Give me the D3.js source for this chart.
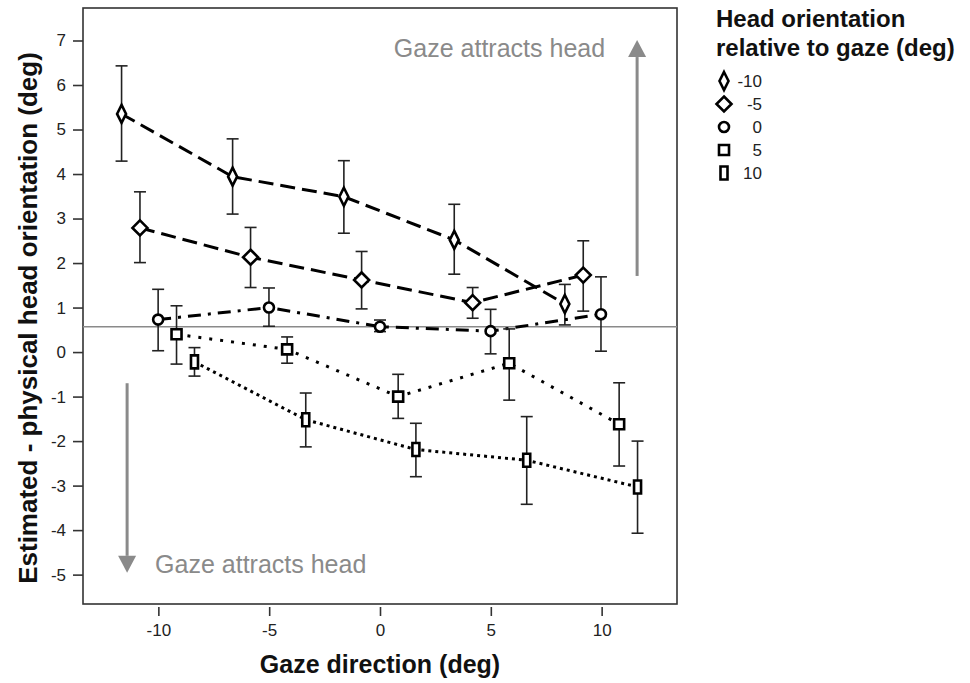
<!DOCTYPE html>
<html>
<head>
<meta charset="utf-8">
<script src="https://cdn.jsdelivr.net/npm/d3@7"></script>
<style>
body { margin: 0; background: #fff; }
text { font-family: "Liberation Sans", Arial, sans-serif; }
</style>
</head>
<body>
<svg id="chart" width="970" height="683"></svg>
<script>
// head orientation relative to gaze (one series each)
const headOrientations = ["-10", "-5", "0", "5", "10"];
const gazeBySeries = [
	[-11.66, -6.65, -1.63, 3.35, 8.34],
	[-10.83, -5.84, -0.83, 4.18, 9.17],
	[-10.01, -5.01, 0, 4.99, 9.97],
	[-9.18, -4.19, 0.82, 5.83, 10.79],
	[-8.37, -3.35, 1.62, 6.62, 11.62]
];
const meanBySeries = [
	[5.35, 3.94, 3.49, 2.52, 1.08],
	[2.79, 2.13, 1.62, 1.11, 1.73],
	[0.73, 1.0, 0.57, 0.47, 0.85],
	[0.4, 0.06, -1.0, -0.25, -1.62],
	[-0.22, -1.52, -2.19, -2.43, -3.03]
];
const lowerBySeries = [
	[4.29, 3.1, 2.67, 1.75, 0.61],
	[2.01, 1.45, 0.97, 0.76, 0.92],
	[0.03, 0.58, 0.46, -0.04, 0.02],
	[-0.27, -0.25, -1.49, -1.08, -2.56],
	[-0.54, -2.13, -2.8, -3.42, -4.07]
];
const upperBySeries = [
	[6.43, 4.79, 4.3, 3.32, 1.52],
	[3.6, 2.8, 2.26, 1.45, 2.5],
	[1.41, 1.44, 0.72, 0.96, 1.69],
	[1.04, 0.34, -0.5, 0.52, -0.69],
	[0.1, -0.92, -1.6, -1.45, -2.0]
];
const xTicks = [-10, -5, 0, 5, 10];
const yTicks = [-5, -4, -3, -2, -1, 0, 1, 2, 3, 4, 5, 6, 7];
const referenceLevel = 0.57;
// arrows: [gaze, from, to]
const upArrow = [11.6, 1.71, 7.01];
const downArrow = [-11.41, -0.7, -4.96];

const frame = { left: 83, right: 677, top: 8, bottom: 604 };
const dashes = ["15,7", "15,7", "13,7,3,7", "3,8", "3,4"];
const shapes = [
	"M0,-9L4.5,0L0,9L-4.5,0Z",
	"M0,-7.5L7.5,0L0,7.5L-7.5,0Z",
	"M5,0A5,5 0 1,1 -5,0A5,5 0 1,1 5,0Z",
	"M-5,-5H5V5H-5Z",
	"M-3.5,-6.5H3.5V6.5H-3.5Z"
];
const grey = "#8a8a8a";
const axisColor = "#333";

const svg = d3.select("#chart");

const x = d3.scaleLinear().domain([-13.4, 13.4]).range([frame.left, frame.right]);
const y = d3.scaleLinear().domain([-5.66, 7.73]).range([frame.bottom, frame.top]);

// axes
const yAxisG = svg.append("g")
	.attr("transform", "translate(" + frame.left + ",0)")
	.call(d3.axisLeft(y).tickValues(yTicks).tickSize(10).tickPadding(7).tickFormat(d3.format("d")));
const xAxisG = svg.append("g")
	.attr("transform", "translate(0," + (frame.bottom + 3) + ")")
	.call(d3.axisBottom(x).tickValues(xTicks).tickSize(9).tickPadding(8).tickFormat(d3.format("d")));
for (const g of [xAxisG, yAxisG]) {
	g.select(".domain").remove();
	g.selectAll("line").attr("stroke", axisColor).attr("stroke-width", 1.6);
	g.selectAll("text").attr("font-size", 17).attr("fill", "#222")
		.attr("font-family", "'Liberation Sans', Arial, sans-serif")
		.text((d) => String(d).replace("\u2212", "-"));
}

svg.append("rect")
	.attr("x", frame.left).attr("y", frame.top)
	.attr("width", frame.right - frame.left).attr("height", frame.bottom - frame.top)
	.attr("fill", "none").attr("stroke", axisColor).attr("stroke-width", 1.6);

svg.append("text")
	.attr("x", x(0)).attr("y", 673)
	.attr("text-anchor", "middle").attr("font-size", 25).attr("font-weight", "bold").attr("fill", "#111")
	.text("Gaze direction (deg)");

svg.append("text")
	.attr("transform", "translate(37,318) rotate(-90)")
	.attr("text-anchor", "middle").attr("font-size", 26).attr("font-weight", "bold").attr("fill", "#111")
	.text("Estimated - physical head orientation (deg)");

// reference line
svg.append("line")
	.attr("x1", frame.left).attr("x2", frame.right)
	.attr("y1", y(referenceLevel)).attr("y2", y(referenceLevel))
	.attr("stroke", grey).attr("stroke-width", 1.6);

// arrows
function drawArrow(a, up) {
	const ax = x(a[0]);
	const tip = y(a[2]);
	const base = up ? tip + 17 : tip - 17;
	svg.append("line")
		.attr("x1", ax).attr("x2", ax).attr("y1", y(a[1])).attr("y2", base)
		.attr("stroke", grey).attr("stroke-width", 3);
	svg.append("path")
		.attr("d", `M${ax},${tip}L${ax + 9},${base}L${ax - 9},${base}Z`)
		.attr("fill", grey);
}
drawArrow(upArrow, true);
drawArrow(downArrow, false);

svg.append("text")
	.attr("x", x(upArrow[0]) - 32).attr("y", y(upArrow[2]) + 17)
	.attr("text-anchor", "end").attr("font-size", 25).attr("fill", grey)
	.text("Gaze attracts head");
svg.append("text")
	.attr("x", x(downArrow[0]) + 28).attr("y", y(downArrow[2]))
	.attr("text-anchor", "start").attr("font-size", 25).attr("fill", grey)
	.text("Gaze attracts head");

// series
const line = d3.line().x((d) => x(d.gaze)).y((d) => y(d.mean));
headOrientations.forEach((label, i) => {
	const pts = gazeBySeries[i].map((g, j) => ({
		gaze: g, mean: meanBySeries[i][j], lo: lowerBySeries[i][j], hi: upperBySeries[i][j]
	}));
	const sg = svg.append("g");
	sg.append("path")
		.datum(pts)
		.attr("fill", "none")
		.attr("stroke", "#000")
		.attr("stroke-width", 3)
		.attr("stroke-dasharray", dashes[i])
		.attr("d", line);

	const bars = sg.selectAll(".bar").data(pts).join("g").attr("stroke", "#222").attr("stroke-width", 1.6);
	bars.append("line")
		.attr("x1", (d) => x(d.gaze)).attr("x2", (d) => x(d.gaze))
		.attr("y1", (d) => y(d.lo)).attr("y2", (d) => y(d.hi));
	bars.append("line")
		.attr("x1", (d) => x(d.gaze) - 6).attr("x2", (d) => x(d.gaze) + 6)
		.attr("y1", (d) => y(d.hi)).attr("y2", (d) => y(d.hi));
	bars.append("line")
		.attr("x1", (d) => x(d.gaze) - 6).attr("x2", (d) => x(d.gaze) + 6)
		.attr("y1", (d) => y(d.lo)).attr("y2", (d) => y(d.lo));

	sg.selectAll(".mk").data(pts).join("path")
		.attr("transform", (d) => `translate(${x(d.gaze)},${y(d.mean)})`)
		.attr("d", shapes[i])
		.attr("fill", "#fff").attr("stroke", "#000").attr("stroke-width", 2.6);
});

// legend
const legend = svg.append("g");
legend.append("text")
	.attr("x", 716).attr("y", 27)
	.attr("font-size", 24).attr("font-weight", "bold").attr("fill", "#111")
	.text("Head orientation");
legend.append("text")
	.attr("x", 716).attr("y", 56)
	.attr("font-size", 24).attr("font-weight", "bold").attr("fill", "#111")
	.text("relative to gaze (deg)");
headOrientations.forEach((label, i) => {
	const ly = 81 + i * 23;
	legend.append("path")
		.attr("transform", `translate(724,${ly})`)
		.attr("d", shapes[i])
		.attr("fill", "#fff").attr("stroke", "#000").attr("stroke-width", 2.6);
	legend.append("text")
		.attr("x", 762).attr("y", ly + 6)
		.attr("text-anchor", "end").attr("font-size", 17).attr("fill", "#222")
		.text(label);
});
</script>
</body>
</html>
